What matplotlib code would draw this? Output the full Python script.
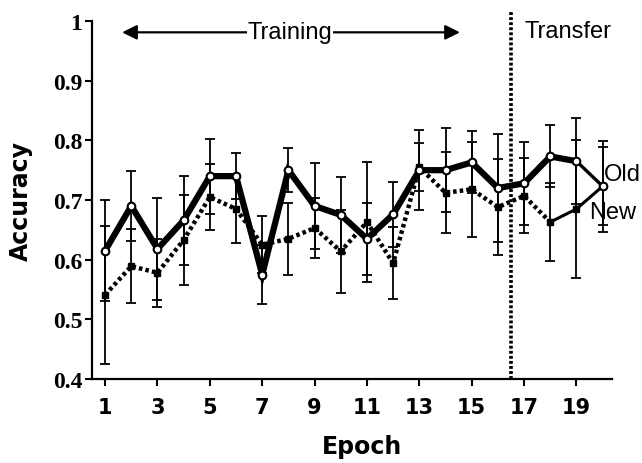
import numpy as np
import matplotlib
matplotlib.use("Agg")
import matplotlib.pyplot as plt
from matplotlib.ticker import FixedLocator, FixedFormatter

epochs = list(range(1, 21))
old_acc = [0.615, 0.69, 0.618, 0.666, 0.74, 0.74, 0.575, 0.75, 0.69, 0.675,
           0.635, 0.676, 0.75, 0.75, 0.763, 0.72, 0.728, 0.773, 0.765, 0.723]
old_err = [0.085, 0.058, 0.085, 0.075, 0.063, 0.038, 0.05, 0.037, 0.072, 0.063,
           0.06, 0.055, 0.067, 0.07, 0.052, 0.09, 0.07, 0.052, 0.072, 0.076]
new_acc = [0.541, 0.589, 0.578, 0.633, 0.705, 0.685, 0.625, 0.635, 0.653, 0.614,
           0.663, 0.594, 0.755, 0.712, 0.718, 0.688, 0.707, 0.663, 0.685, 0.723]
new_err = [0.115, 0.062, 0.057, 0.075, 0.055, 0.057, 0.048, 0.06, 0.05, 0.07,
           0.1, 0.06, 0.04, 0.068, 0.08, 0.08, 0.063, 0.065, 0.116, 0.065]

ytick_vals = [0.4, 0.5, 0.6, 0.7, 0.8, 0.9, 1.0]
ytick_labels = ["0.4", "0.5", "0.6", "0.7", "0.8", "0.9", "1"]
xtick_vals = [1, 3, 5, 7, 9, 11, 13, 15, 17, 19]

fig = plt.figure(figsize=(6.42, 4.64), dpi=100)
ax = fig.add_axes([0.1433, 0.181, 0.953 - 0.1433, 0.9526 - 0.181])

# error bars (thin, capped)
ax.errorbar(epochs, old_acc, yerr=old_err, fmt="none", ecolor="black",
            elinewidth=1.3, capsize=3.3, capthick=1.3, zorder=2)
ax.errorbar(epochs, new_acc, yerr=new_err, fmt="none", ecolor="black",
            elinewidth=1.3, capsize=3.3, capthick=1.3, zorder=2)

# New: dotted during training, thin solid at the end
ax.plot(epochs[:18], new_acc[:18], color="black", lw=3.2,
        ls=(0, (0.8, 0.7)), zorder=3)
ax.plot(epochs[17:], new_acc[17:], color="black", lw=2.2, zorder=3)
ax.plot(epochs, new_acc, ls="none", marker="s", ms=4.5, color="black", zorder=4)

# Old: thick solid, thinner last segment
ax.plot(epochs[:19], old_acc[:19], color="black", lw=4.5, zorder=5,
        solid_joinstyle="miter")
ax.plot(epochs[18:], old_acc[18:], color="black", lw=2.4, zorder=5)
ax.plot(epochs, old_acc, ls="none", marker="o", ms=5.5, mfc="white",
        mec="black", mew=1.5, zorder=6)

# transfer boundary
ax.plot([16.5, 16.5], [0.4, 1.016], color="black", lw=2.6,
        ls=(0, (0.8, 0.6)), clip_on=False, zorder=1)

# training arrow
ax.annotate("", xy=(1.65, 0.981), xytext=(14.55, 0.981),
            arrowprops=dict(arrowstyle="<|-|>", color="black", lw=1.6,
                            mutation_scale=22, shrinkA=0, shrinkB=0),
            annotation_clip=False)
ax.text(8.06, 0.981, "Training", ha="center", va="center", fontsize=17,
        family="Liberation Sans", bbox=dict(fc="white", ec="none", pad=0.5))
ax.text(17.03, 0.983, "Transfer", ha="left", va="center", fontsize=17,
        family="Liberation Sans")
ax.text(20.05, 0.743, "Old", ha="left", va="center", fontsize=17,
        family="Liberation Sans")
ax.text(19.47, 0.680, "New", ha="left", va="center", fontsize=17,
        family="Liberation Sans", zorder=7)

ax.set_xlim(0.5, 20.35)
ax.set_ylim(0.4, 1.0)
ax.yaxis.set_major_locator(FixedLocator(ytick_vals))
ax.yaxis.set_major_formatter(FixedFormatter(ytick_labels))
ax.set_xticks(xtick_vals)

for s in ["top", "right"]:
    ax.spines[s].set_visible(False)
for s in ["left", "bottom"]:
    ax.spines[s].set_linewidth(1.6)

ax.tick_params(axis="both", direction="out", length=5, width=1.5)
ax.tick_params(axis="y", pad=2)
ax.tick_params(axis="x", pad=8)
for lab in ax.get_yticklabels():
    lab.set_fontfamily("Liberation Serif")
    lab.set_fontweight("bold")
    lab.set_fontsize(17)
for lab in ax.get_xticklabels():
    lab.set_fontfamily("DejaVu Sans")
    lab.set_fontweight("bold")
    lab.set_fontsize(15)

ax.set_ylabel("Accuracy", fontsize=17, fontweight="bold", family="DejaVu Sans",
              va="center")
ax.set_xlabel("Epoch", fontsize=17, fontweight="bold", family="DejaVu Sans",
              va="center")
ax.yaxis.set_label_coords(-0.1365, 0.5)
ax.xaxis.set_label_coords(0.52, -0.187)

fig.savefig("out.png", dpi=100)
